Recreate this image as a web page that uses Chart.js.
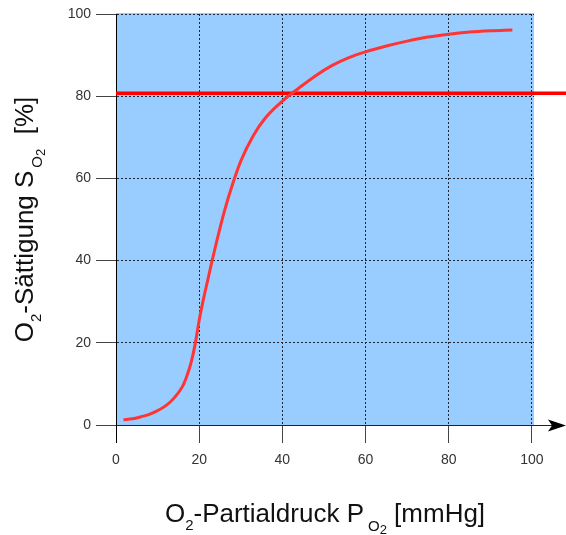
<!DOCTYPE html>
<html>
<head>
<meta charset="utf-8">
<script src="https://cdn.jsdelivr.net/npm/chart.js@4/dist/chart.umd.min.js"></script>
<style>
  html, body { margin: 0; padding: 0; background: #fff; }
</style>
</head>
<body>
<canvas id="chart" width="566" height="535"></canvas>
<script>
// Sauerstoffbindungskurve
const pressure   = [1.8, 4, 6, 8, 10, 12, 14, 16, 17, 18, 19, 20, 21, 22, 23, 24, 26, 28, 30, 33, 36, 40, 44, 48, 52, 56, 60, 65, 70, 75, 80, 85, 90, 95.3];
const saturation = [1.3, 1.5, 2.0, 2.6, 3.5, 4.7, 6.6, 9.4, 11.8, 15, 19.5, 25.5, 30.5, 35, 39.5, 43.8, 51.8, 58.5, 64.2, 70.4, 74.8, 78.8, 82, 85, 87.5, 89.4, 90.8, 92.2, 93.4, 94.4, 95.1, 95.6, 95.9, 96.1];
const refX = [0, 108.5];
const refY = [80.7, 80.7];
const xTicks = [0, 20, 40, 60, 80, 100];
const yTicks = [0, 20, 40, 60, 80, 100];

const FONT = "'Liberation Sans', Arial, sans-serif";

function drawRich(ctx, parts, cx, baseY) {
    let total = 0;
    parts.forEach(p => {
        ctx.font = p.size + 'px ' + FONT;
        p.w = ctx.measureText(p.t).width + (p.gap || 0);
        total += p.w;
    });
    let x = cx - total / 2;
    parts.forEach(p => {
        ctx.font = p.size + 'px ' + FONT;
        ctx.fillText(p.t, x + (p.gap || 0), baseY + (p.dy || 0));
        x += p.w;
    });
}

const decor = {
    id: 'decor',
    beforeDraw(chart) {
        const {ctx, chartArea: a} = chart;
        ctx.save();
        ctx.fillStyle = '#99ccff';
        ctx.fillRect(a.left, a.top - 1, a.right - a.left, a.bottom - a.top + 1);
        ctx.restore();
    },
    afterDraw(chart) {
        const {ctx, chartArea: a, width} = chart;
        const y = chart.scales.y.getPixelForValue(0);
        ctx.save();
        // x axis extension with arrow
        ctx.strokeStyle = '#222';
        ctx.lineWidth = 1;
        ctx.beginPath();
        ctx.moveTo(a.right, y + 0.5);
        ctx.lineTo(width - 10, y + 0.5);
        ctx.stroke();
        ctx.fillStyle = '#000';
        ctx.beginPath();
        ctx.moveTo(width - 18, y - 5.5);
        ctx.lineTo(width, y + 0.5);
        ctx.lineTo(width - 18, y + 6.5);
        ctx.lineTo(width - 14, y + 0.5);
        ctx.closePath();
        ctx.fill();

        // axis titles
        ctx.fillStyle = '#111';
        ctx.textAlign = 'left';
        ctx.textBaseline = 'alphabetic';
        drawRich(ctx, [
            {t: 'O', size: 26},
            {t: '2', size: 15, dy: 8},
            {t: '-Partialdruck P', size: 26},
            {t: 'O', size: 15, dy: 9, gap: 4},
            {t: '2', size: 13, dy: 12},
            {t: ' [mmHg]', size: 26}
        ], (a.left + a.right) / 2, 522);

        ctx.translate(33, (a.top + a.bottom) / 2);
        ctx.rotate(-Math.PI / 2);
        drawRich(ctx, [
            {t: 'O', size: 26},
            {t: '2', size: 15, dy: 8},
            {t: '-Sättigung S', size: 26},
            {t: 'O', size: 15, dy: 9, gap: 3},
            {t: '2', size: 13, dy: 12},
            {t: '  [%]', size: 26}
        ], 0, 0);
        ctx.restore();
    }
};

new Chart(document.getElementById('chart').getContext('2d'), {
    type: 'line',
    data: {
        datasets: [{
            data: pressure.map((p, i) => ({x: p, y: saturation[i]})),
            borderColor: '#ff3535',
            borderWidth: 3,
            pointRadius: 0,
            cubicInterpolationMode: 'monotone',
            fill: false
        }, {
            data: refX.map((p, i) => ({x: p, y: refY[i]})),
            borderColor: '#ff0000',
            borderWidth: 3.5,
            pointRadius: 0,
            clip: false,
            fill: false
        }]
    },
    options: {
        responsive: false,
        animation: false,
        layout: { padding: { top: 14, right: 32, left: 0, bottom: 0 } },
        plugins: { legend: { display: false }, tooltip: { enabled: false } },
        scales: {
            x: {
                type: 'linear',
                min: 0,
                max: 100.5,
                afterBuildTicks: s => { s.ticks = xTicks.map(v => ({value: v})); },
                afterFit: s => { s.height = 110; },
                ticks: { font: { size: 14, family: FONT }, color: '#333', padding: 9, maxRotation: 0 },
                grid: {
                    color: c => c.tick && c.tick.value === 0 ? 'transparent' : '#1e2633',
                    tickColor: c => c.tick && c.tick.value === 0 ? '#000' : '#444',
                    tickLength: 18,
                    tickBorderDash: []
                },
                border: { color: '#222', width: 1, dash: [2, 2] }
            },
            y: {
                min: 0,
                max: 100,
                afterBuildTicks: s => { s.ticks = yTicks.map(v => ({value: v})); },
                afterFit: s => { s.width = 116; },
                ticks: { font: { size: 14, family: FONT }, color: '#333', padding: 5 },
                grid: {
                    color: c => c.tick && c.tick.value === 0 ? 'transparent' : '#1e2633',
                    tickColor: '#444',
                    tickLength: 20,
                    tickBorderDash: []
                },
                border: { color: '#000', width: 1, dash: [2, 2] }
            }
        }
    },
    plugins: [decor]
});
</script>
</body>
</html>
